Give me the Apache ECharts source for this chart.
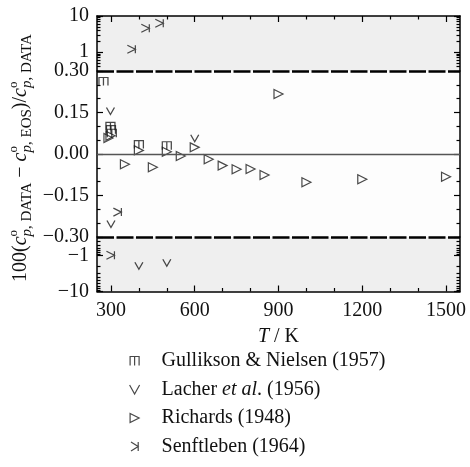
<!DOCTYPE html>
<html>
<head>
<meta charset="utf-8">
<script src="https://cdn.jsdelivr.net/npm/echarts@6/dist/echarts.min.js"></script>
<style>
  html, body { margin: 0; padding: 0; background: #ffffff; }
  #chart { width: 470px; height: 467px; }
</style>
</head>
<body>
<div id="chart"></div>
<script>
// ---- data: temperature (K) and deviation 100(cp,DATA - cp,EOS)/cp,DATA ----
const seriesNames = ['Gullikson & Nielsen (1957)', 'Lacher et al. (1956)', 'Richards (1948)', 'Senftleben (1964)'];

const gullTemp = [273.15, 298.15, 300, 303, 400, 500];
const gullDev  = [0.262, 0.100, 0.088, 0.075, 0.034, 0.030];

const lachTemp = [298.15, 600, 300, 400, 500];
const lachDev  = [0.155, 0.057, -0.253, -1.9, -1.57];

const richTemp = [291, 298.15, 350, 400, 450, 500, 550, 600, 650, 700, 750, 800, 850, 900, 1000, 1200, 1500];
const richDev  = [0.058, 0.066, -0.037, 0.013, -0.048, 0.008, -0.007, 0.024, -0.019, -0.042, -0.055, -0.054, -0.076, 0.217, -0.102, -0.091, -0.082];

const senfTemp = [373, 423, 473, 323, 298.15];
const senfDev  = [1.2, 4.6, 6.3, -0.21, -0.97];

// ---- axis ticks ----
const xMajorTicks = [300, 600, 900, 1200, 1500];
const xMinorTicks = [400, 500, 700, 800, 1000, 1100, 1300, 1400];
const midMajorTicks = [-0.3, -0.15, 0, 0.15, 0.3];
const midMinorTicks = [-0.25, -0.2, -0.1, -0.05, 0.05, 0.1, 0.2, 0.25];
const logMajorTicks = [1, 10];
const logMinorTicks = [0.4, 0.5, 0.6, 0.7, 0.8, 0.9, 2, 3, 4, 5, 6, 7, 8, 9];

// ---- styling ----
const SERIF = '"Liberation Serif", "Times New Roman", serif';
const INK = '#111111';
const AXIS_COLOR = '#000000';
const SHADE = '#efefef';
const MAJOR_LEN = 6;
const MINOR_LEN = 3.5;
const MARK_STYLE = { color: 'rgba(0,0,0,0)', borderColor: '#1a1a1a', borderWidth: 1.2 };

const symbols = {
  'Gullikson & Nielsen (1957)': { path: 'path://M0,10 L0,0 L10,0 L10,10 M5,0 L5,10', size: [9, 8] },
  'Lacher et al. (1956)':       { path: 'path://M0,0 L5,9 L10,0', size: [8, 7] },
  'Richards (1948)':            { path: 'path://M0,0 L10,5 L0,10 Z', size: [9, 9] },
  'Senftleben (1964)':          { path: 'path://M0,0 L8,5 L0,10 M8,0 L8,10', size: [8, 8] }
};
const dataSets = {
  'Gullikson & Nielsen (1957)': [gullTemp, gullDev],
  'Lacher et al. (1956)': [lachTemp, lachDev],
  'Richards (1948)': [richTemp, richDev],
  'Senftleben (1964)': [senfTemp, senfDev]
};

// broken axis: |dev| > 0.3 goes to the log panels
function splitPanels(temps, devs) {
  const top = [], mid = [], bot = [];
  temps.forEach((t, i) => {
    const d = devs[i];
    if (d > 0.3) top.push([t, d]);
    else if (d < -0.3) bot.push([t, -d]);
    else mid.push([t, d]);
  });
  return { top, mid, bot };
}

const labelStyle = { fontFamily: SERIF, fontSize: 20, color: INK };

// ---- grids ----
const L = 97, W = 363;
const grids = [
  { left: L, width: W, top: 16, height: 55, show: true, backgroundColor: SHADE, borderWidth: 0 },
  { left: L, width: W, top: 71, height: 166, show: true, backgroundColor: '#fdfdfd', borderWidth: 0 },
  { left: L, width: W, top: 237, height: 54.5, show: true, backgroundColor: SHADE, borderWidth: 0 }
];

// ---- x axes ----
function xAxis(grid, position, ticks, len, opts) {
  return Object.assign({
    type: 'value', gridIndex: grid, position, min: 250, max: 1550,
    axisLine: { show: false },
    axisTick: { show: true, inside: true, length: len, customValues: ticks, lineStyle: { color: AXIS_COLOR, width: 1.2 } },
    axisLabel: { show: false },
    splitLine: { show: false }
  }, opts || {});
}
const xAxes = [
  xAxis(0, 'top', xMajorTicks, MAJOR_LEN, { axisLine: { show: true, lineStyle: { color: AXIS_COLOR, width: 1.5 } } }),
  xAxis(0, 'top', xMinorTicks, MINOR_LEN),
  { type: 'value', gridIndex: 1, min: 250, max: 1550, show: false },
  xAxis(2, 'bottom', xMajorTicks, MAJOR_LEN, {
    axisLine: { show: true, lineStyle: { color: AXIS_COLOR, width: 1.5 } },
    axisLabel: Object.assign({ show: true, margin: 9, customValues: xMajorTicks, formatter: v => String(v) }, labelStyle),
    name: '{i|T} / K', nameLocation: 'middle', nameGap: 35,
    nameTextStyle: Object.assign({ rich: { i: { fontFamily: SERIF, fontSize: 20, fontStyle: 'italic', color: INK } } }, labelStyle)
  }),
  xAxis(2, 'bottom', xMinorTicks, MINOR_LEN)
];

// ---- y axes: for every panel a left/right pair of major and minor tick axes ----
function yAxes(grid, base, majors, minors, labelFmt) {
  const axes = [];
  ['left', 'right'].forEach(side => {
    axes.push(Object.assign({}, base, {
      gridIndex: grid, position: side,
      axisLine: { show: true, lineStyle: { color: AXIS_COLOR, width: 1.5 } },
      axisTick: { show: true, inside: true, length: MAJOR_LEN, customValues: majors, lineStyle: { color: AXIS_COLOR, width: 1.2 } },
      axisLabel: side === 'left'
        ? Object.assign({ show: true, margin: 8, customValues: majors, formatter: labelFmt }, labelStyle)
        : { show: false },
      splitLine: { show: false }
    }));
    axes.push(Object.assign({}, base, {
      gridIndex: grid, position: side,
      axisLine: { show: false },
      axisTick: { show: true, inside: true, length: MINOR_LEN, customValues: minors, lineStyle: { color: AXIS_COLOR, width: 1.2 } },
      axisLabel: { show: false },
      splitLine: { show: false }
    }));
  });
  return axes;
}
const yAxisList = [].concat(
  yAxes(0, { type: 'log', logBase: 10, min: 0.3, max: 10 }, logMajorTicks, logMinorTicks, v => String(v)),
  yAxes(1, { type: 'value', min: -0.3, max: 0.3 }, midMajorTicks, midMinorTicks,
        v => (v < 0 ? '\u2212' : '') + Math.abs(v).toFixed(2)),
  yAxes(2, { type: 'log', logBase: 10, min: 0.3, max: 10, inverse: true }, logMajorTicks, logMinorTicks,
        v => '\u2212' + v)
);

// ---- series ----
const panelAxes = [[0, 0], [2, 4], [3, 8]];
const series = [];
seriesNames.forEach(name => {
  const [t, d] = dataSets[name];
  const parts = splitPanels(t, d);
  [parts.top, parts.mid, parts.bot].forEach((pts, p) => {
    series.push({
      name, type: 'scatter',
      xAxisIndex: panelAxes[p][0], yAxisIndex: panelAxes[p][1],
      symbol: symbols[name].path, symbolSize: symbols[name].size,
      itemStyle: MARK_STYLE,
      data: pts, z: 3
    });
  });
});
// zero line and the ±0.30 breaks of the axis
series.push({
  type: 'scatter', xAxisIndex: 2, yAxisIndex: 4, data: [], silent: true, z: 2,
  markLine: {
    silent: true, symbol: 'none', label: { show: false }, animation: false,
    data: [
      { yAxis: 0, lineStyle: { color: '#555555', width: 1.3, type: 'solid' } },
      { yAxis: 0.3, lineStyle: { color: '#000000', width: 2.5, type: [17, 2.5] } },
      { yAxis: -0.3, lineStyle: { color: '#000000', width: 2.5, type: [17, 2.5] } }
    ]
  }
});

// ---- rotated y-axis title with stacked super/subscripts ----
const measureCtx = document.createElement('canvas').getContext('2d');
function fontStr(size, italic) { return (italic ? 'italic ' : '') + size + 'px ' + SERIF; }
function textWidth(text, size, italic) { measureCtx.font = fontStr(size, italic); return measureCtx.measureText(text).width; }
// distance from the em-box middle down to the alphabetic baseline
function midOffset(size) { return 0.3375 * size; }
const MAIN = 20, SUB = 15, SUP = 13;
const titleKids = [];
let cursor = 0;
function place(text, size, italic, baseline) {
  titleKids.push({
    type: 'text', x: cursor, y: baseline - midOffset(size),
    style: { text, font: fontStr(size, italic), fill: INK, align: 'left', verticalAlign: 'middle' }
  });
}
function run(text, size, italic) { place(text, size, italic, 0); cursor += textWidth(text, size, italic); }
function cp(tag) {
  run('c', MAIN, true);
  const start = cursor;
  place('o', SUP, false, -9);
  place('p', SUB, true, 5);
  cursor += textWidth('p', SUB, true);
  place(', ' + tag, SUB, false, 5);
  cursor += textWidth(', ' + tag, SUB, false);
  cursor = Math.max(cursor, start + textWidth('o', SUP, false));
}
run('100(', MAIN, false);
cp('DATA');
run(' \u2212 ', MAIN, false);
cp('EOS');
run(')/', MAIN, false);
cp('DATA');

const option = {
  animation: false,
  backgroundColor: '#ffffff',
  grid: grids,
  xAxis: xAxes,
  yAxis: yAxisList,
  series,
  legend: {
    data: seriesNames, orient: 'vertical', left: 124, top: 346,
    itemWidth: 30, itemHeight: 9, itemGap: 8.5, selectedMode: false,
    itemStyle: MARK_STYLE,
    textStyle: {
      fontFamily: SERIF, fontSize: 20, color: INK, lineHeight: 20, padding: [0, 0, 0, 7],
      rich: { i: { fontFamily: SERIF, fontSize: 20, fontStyle: 'italic', color: INK, lineHeight: 20 } }
    },
    formatter: name => name === 'Lacher et al. (1956)' ? 'Lacher {i|et al}. (1956)' : name
  },
  graphic: [{ type: 'group', x: 27, y: 282, rotation: Math.PI / 2, children: titleKids }]
};

const chart = echarts.init(document.getElementById('chart'), null, { renderer: 'canvas' });
chart.setOption(option);
</script>
</body>
</html>
